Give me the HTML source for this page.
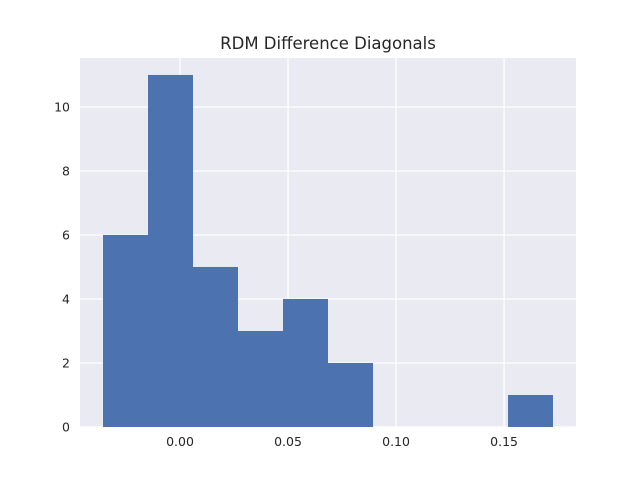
<!DOCTYPE html>
<html><head><meta charset="utf-8"><style>
body{margin:0;background:#fff;}
svg text{font-family:"DejaVu Sans","Liberation Sans",sans-serif;fill:#262626;}
</style></head><body>
<svg id="chart" width="640" height="480" xmlns="http://www.w3.org/2000/svg">
<rect x="0" y="0" width="640" height="480" fill="#fff"/>
<rect x="80" y="58" width="496" height="369" fill="#eaeaf2"/>
<g id="grid"></g><g id="bars"></g><g id="ticks"></g>
<text x="328" y="49" text-anchor="middle" font-size="16.5">RDM Difference Diagonals</text>
</svg>
<script>
const binStart = -0.03565;
const binWidth = 0.02083;
const counts = [6, 11, 5, 3, 4, 2, 0, 0, 0, 1];
const xTicks = [0.00, 0.05, 0.10, 0.15];
const xTickLabels = ["0.00", "0.05", "0.10", "0.15"];
const yTicks = [0, 2, 4, 6, 8, 10];
const xMin = -0.0463, xMax = 0.1833, yMin = 0, yMax = 11.53;
const L = 80, R = 576, T = 58, B = 427;
const xs = v => L + (v - xMin) / (xMax - xMin) * (R - L);
const ys = v => B - (v - yMin) / (yMax - yMin) * (B - T);
const NS = "http://www.w3.org/2000/svg";
function mk(tag, attrs, parent) { const e = document.createElementNS(NS, tag); for (const k in attrs) e.setAttribute(k, attrs[k]); document.getElementById(parent).appendChild(e); return e; }
xTicks.forEach((t, i) => {
  const l = mk("line", {x1: xs(t), x2: xs(t), y1: T, y2: B, stroke: "#fff", "stroke-width": 1.3}, "grid");
  
  
  const tx = mk("text", {x: xs(t), y: B + 19, "text-anchor": "middle", "font-size": 12.5}, "ticks");
  tx.textContent = xTickLabels[i];
  
  
});
yTicks.forEach(t => {
  const l = mk("line", {x1: L, x2: R, y1: ys(t), y2: ys(t), stroke: "#fff", "stroke-width": 1.3}, "grid");
  
  
  const tx = mk("text", {x: L - 10, y: ys(t) + 4.5, "text-anchor": "end", "font-size": 12.5}, "ticks");
  tx.textContent = String(t);
  
  
});
counts.forEach((c, i) => {
  if (c <= 0) return;
  const x0 = xs(binStart + i * binWidth), x1 = xs(binStart + (i + 1) * binWidth);
  const r = mk("rect", {x: x0, y: ys(c), width: x1 - x0, height: ys(0) - ys(c), fill: "#4c72b0"}, "bars");
  
  
});
</script>
</body></html>
